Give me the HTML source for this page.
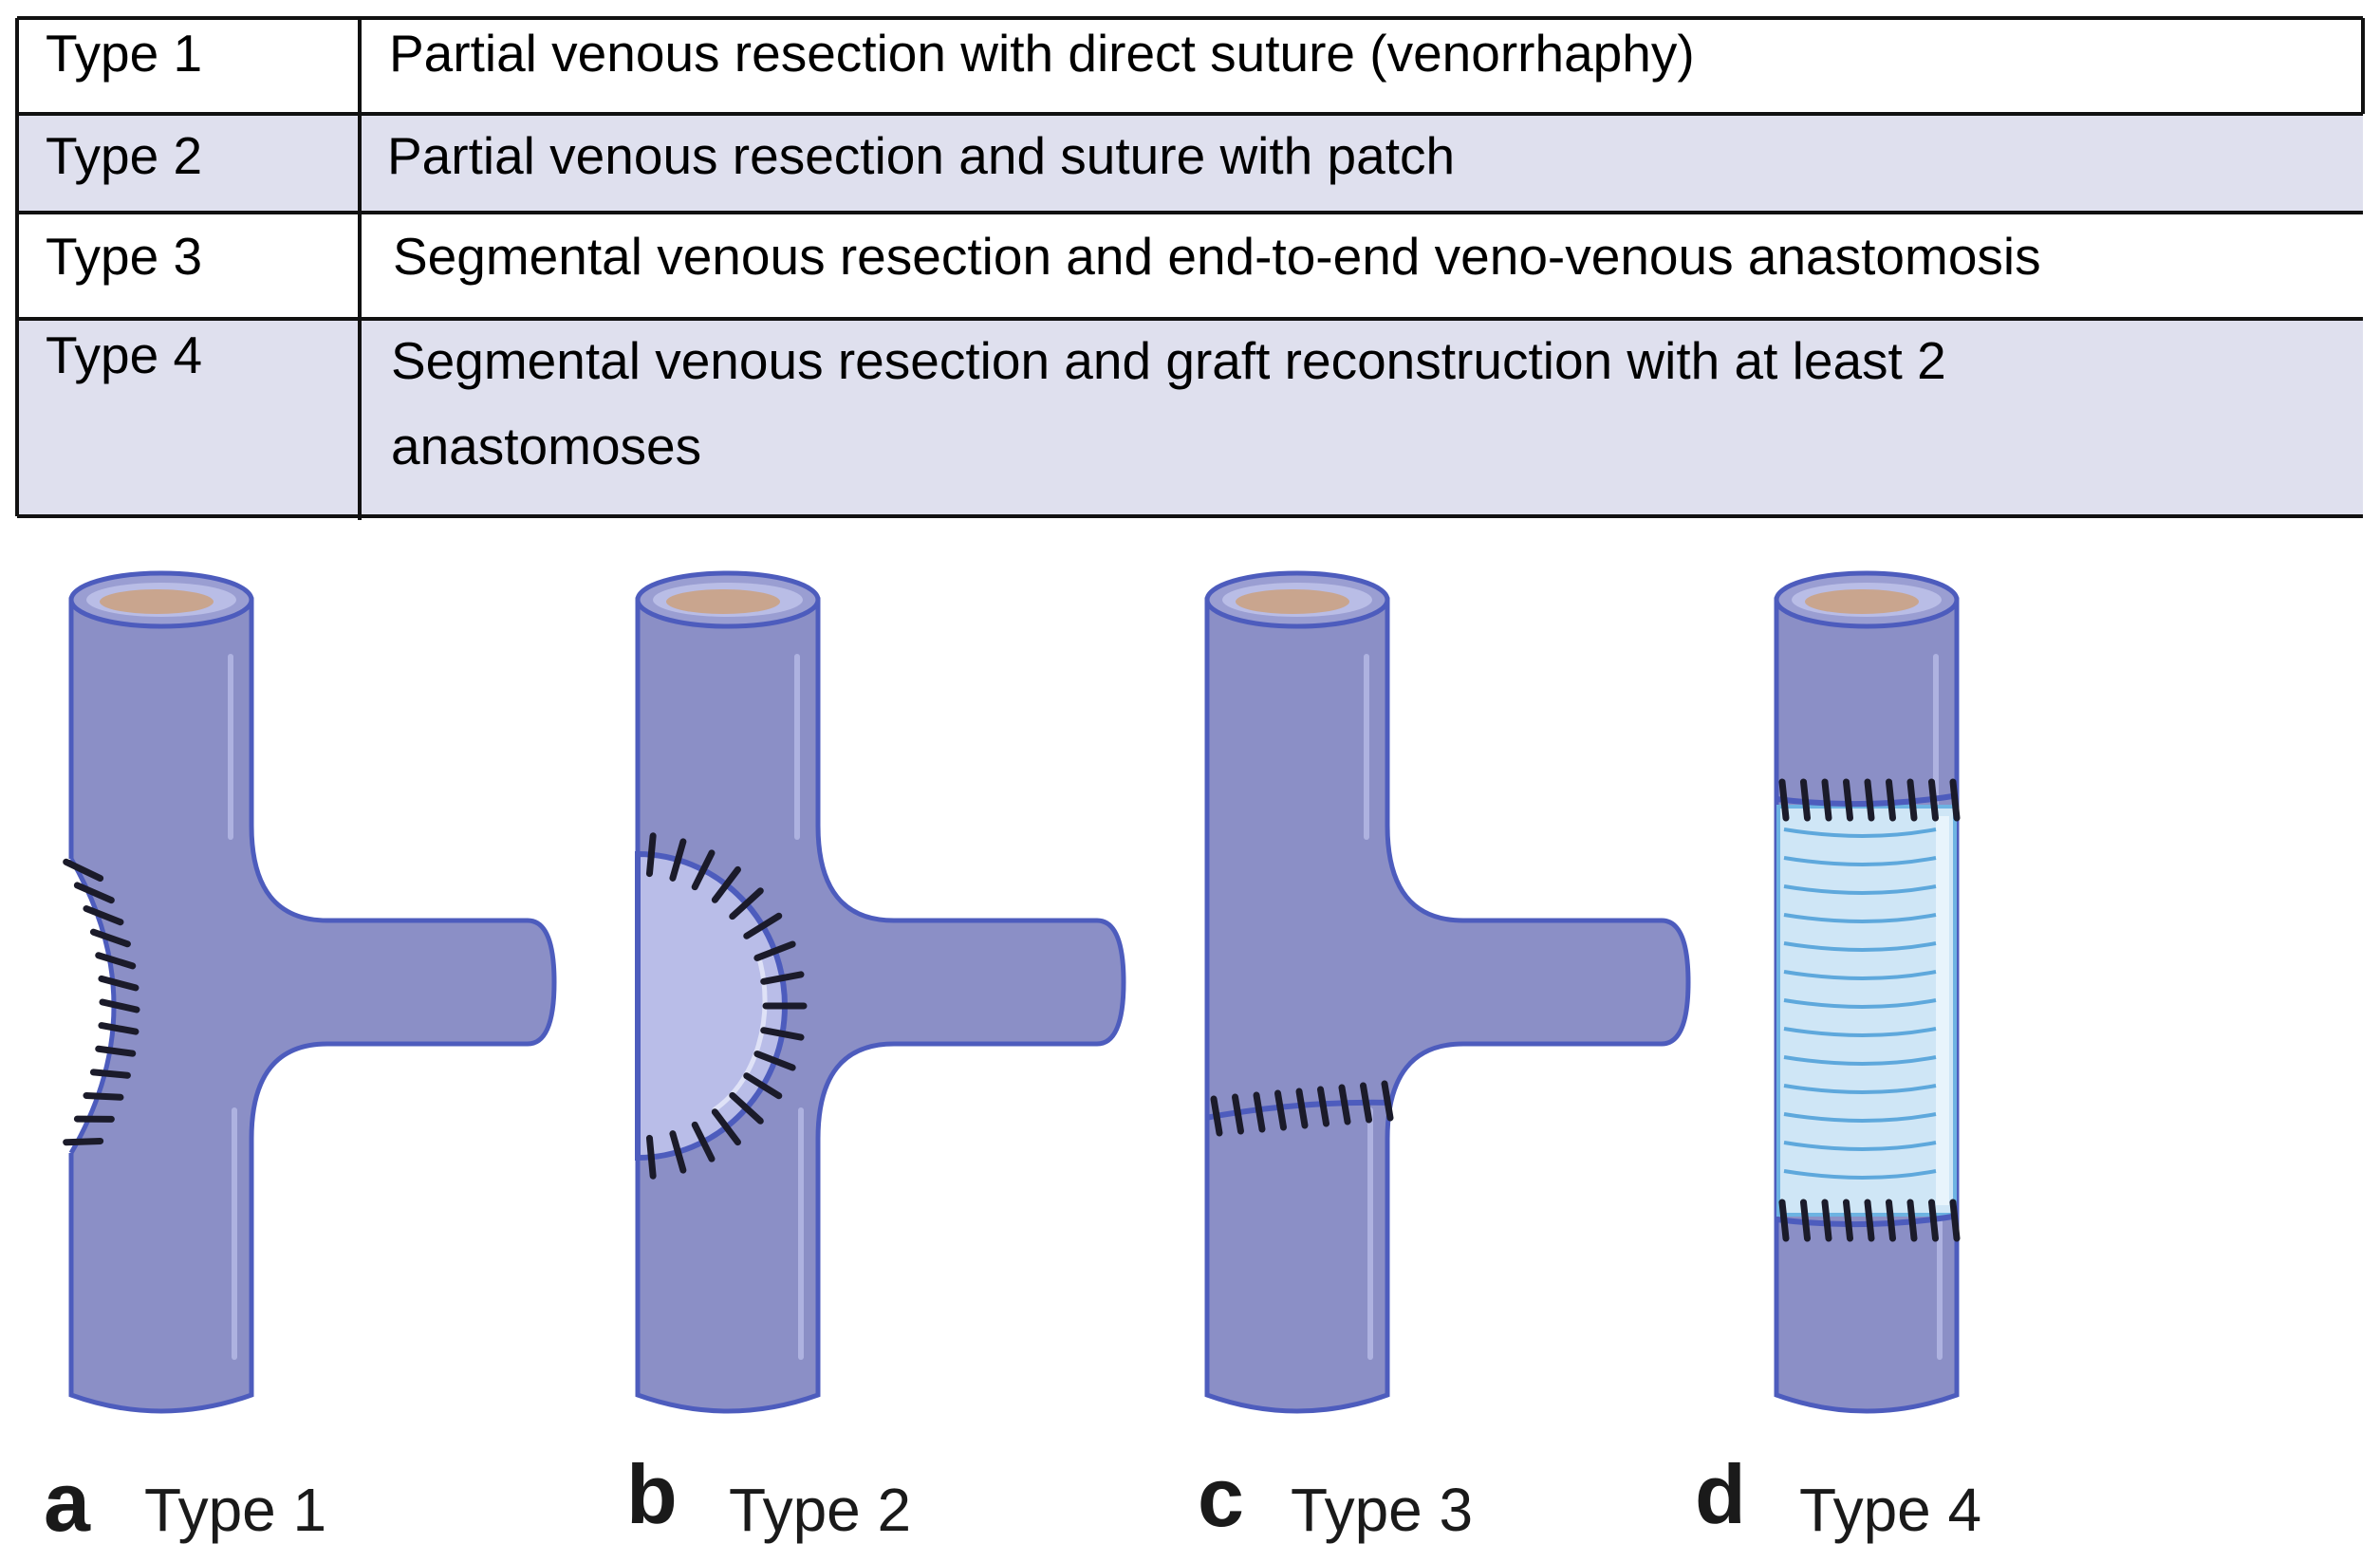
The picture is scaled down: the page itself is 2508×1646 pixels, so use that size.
<!DOCTYPE html>
<html><head><meta charset="utf-8"><style>
html,body{margin:0;padding:0;background:#fff;}
body{width:2508px;height:1646px;position:relative;overflow:hidden;font-family:"Liberation Sans",Arial,sans-serif;}
.t{position:absolute;font-size:55px;color:#000;white-space:nowrap;}
</style></head><body>
<svg width="2508" height="1646" viewBox="0 0 2508 1646" style="position:absolute;left:0;top:0">
<rect x="18" y="120" width="2472" height="104" fill="#dfe0ee"/>
<rect x="18" y="336" width="2472" height="208" fill="#dfe0ee"/>
<g stroke="#111" stroke-width="4">
<line x1="18" y1="19" x2="2490" y2="19"/>
<line x1="18" y1="120" x2="2490" y2="120"/>
<line x1="18" y1="224" x2="2490" y2="224"/>
<line x1="18" y1="336" x2="2490" y2="336"/>
<line x1="18" y1="544" x2="2490" y2="544"/>
<line x1="18" y1="19" x2="18" y2="544"/>
<line x1="2490" y1="19" x2="2490" y2="120"/>
<line x1="379" y1="19" x2="379" y2="548"/>
</g>
<g id="v"></g>
<g id="s"></g>
<g font-family="Liberation Sans,Arial,sans-serif" fill="#1a1a1a">
<text x="46" y="1613" font-size="88" font-weight="bold">a</text>
<text x="152" y="1613" font-size="64">Type 1</text>
<text x="660" y="1605" font-size="88" font-weight="bold">b</text>
<text x="768" y="1613" font-size="64">Type 2</text>
<text x="1262" y="1608" font-size="88" font-weight="bold">c</text>
<text x="1360" y="1613" font-size="64">Type 3</text>
<text x="1786" y="1605" font-size="88" font-weight="bold">d</text>
<text x="1896" y="1613" font-size="64">Type 4</text>
</g>
</svg>
<div class="t" style="left:48px;top:24px">Type 1</div>
<div class="t" style="left:410px;top:24px">Partial venous resection with direct suture (venorrhaphy)</div>
<div class="t" style="left:48px;top:132px">Type 2</div>
<div class="t" style="left:408px;top:132px">Partial venous resection and suture with patch</div>
<div class="t" style="left:48px;top:238px">Type 3</div>
<div class="t" style="left:414px;top:238px">Segmental venous resection and end-to-end veno-venous anastomosis</div>
<div class="t" style="left:48px;top:342px">Type 4</div>
<div class="t" style="left:412px;top:348px">Segmental venous resection and graft reconstruction with at least 2</div>
<div class="t" style="left:412px;top:438px">anastomoses</div>
<script>
var NS="http://www.w3.org/2000/svg";
var V=document.getElementById('v'),S=document.getElementById('s');
function el(t,a,p){var e=document.createElementNS(NS,t);for(var k in a)e.setAttribute(k,a[k]);(p||V).appendChild(e);return e;}
var F="#8b8fc6",ST="#4d5cbd";
function tee(x0,xe,branch){
 var w=190,yt=632,yb=1470,y1=970,y2=1100,r=x0+w;
 var d="M"+x0+","+yt+" L"+r+","+yt;
 if(branch){d+=" L"+r+","+(y1-100)+" Q"+r+","+y1+" "+(r+80)+","+y1+" L"+(xe-28)+","+y1+" Q"+xe+","+y1+" "+xe+","+((y1+y2)/2)+" Q"+xe+","+y2+" "+(xe-28)+","+y2+" L"+(r+80)+","+y2+" Q"+r+","+y2+" "+r+","+(y2+100);}
 d+=" L"+r+","+yb+" Q"+(x0+w/2)+","+(yb+34)+" "+x0+","+yb+" Z";
 el('path',{d:d,fill:F,stroke:ST,'stroke-width':5});
 el('path',{d:"M"+(r-22)+","+(yt+60)+" L"+(r-22)+","+(yt+250),stroke:"#aeb2e0",'stroke-width':6,fill:'none','stroke-linecap':'round'});
 el('path',{d:"M"+(r-18)+","+(yb-300)+" L"+(r-18)+","+(yb-40),stroke:"#aeb2e0",'stroke-width':6,fill:'none','stroke-linecap':'round'});
 var cx=x0+w/2;
 el('ellipse',{cx:cx,cy:yt,rx:w/2,ry:28,fill:"#9a9ed2",stroke:ST,'stroke-width':5});
 el('ellipse',{cx:cx,cy:yt,rx:w/2-16,ry:18,fill:"#b9bde6"});
 el('ellipse',{cx:cx-5,cy:yt+2,rx:60,ry:13,fill:"#c9a58e"});
}
tee(75,584,true);tee(672,1184,true);tee(1272,1779,true);tee(1872,0,false);
function tick(x1,y1,x2,y2,w){el('line',{x1:x1,y1:y1,x2:x2,y2:y2,stroke:"#1b1b2a",'stroke-width':w||7,'stroke-linecap':'round'},S);}
(function(){
 el('path',{d:"M75,905 Q165,1060 75,1215 L70,1215 L70,905 Z",fill:"#fff"});
 el('path',{d:"M75,905 Q165,1060 75,1215",fill:"none",stroke:ST,'stroke-width':5});
 for(var i=0;i<13;i++){var t=(i+0.5)/13;var x=(1-t)*(1-t)*75+2*t*(1-t)*165+t*t*75;var y=(1-t)*(1-t)*905+2*t*(1-t)*1060+t*t*1215;
  tick(x-12,y-4+(t-0.5)*10,x+24,y+4-(t-0.5)*10,7);}
})();
(function(){
 var cx=672,cy=1060,rx=155,ry=160;
 el('path',{d:"M"+cx+","+(cy-ry)+" A"+rx+","+ry+" 0 0 1 "+cx+","+(cy+ry)+" Z",fill:"#b9bde8",stroke:ST,'stroke-width':6});
 el('path',{d:"M"+(cx+128)+","+(cy-50)+" A100,130 0 0 1 "+(cx+80)+","+(cy+110),fill:"none",stroke:"#dfe2f7",'stroke-width':5});
 for(var i=0;i<17;i++){var a=-Math.PI/2+(i+0.5)*Math.PI/17;var x=cx+rx*Math.cos(a),y=cy+ry*Math.sin(a);
  var nx=Math.cos(a),ny=Math.sin(a);tick(x-nx*20,y-ny*20,x+nx*20,y+ny*20,7);}
})();
(function(){
 el('path',{d:"M1270,1178 Q1368,1160 1466,1162",fill:"none",stroke:ST,'stroke-width':6});
 for(var i=0;i<9;i++){var x=1282+i*22.5;var y=1176-i*2;tick(x-3,y-18,x+3,y+18,7);}
})();
(function(){
 el('rect',{x:1874,y:850,width:186,height:430,fill:"#cfe6f6",stroke:"#6db3e2",'stroke-width':4});
 el('rect',{x:2040,y:860,width:14,height:410,fill:"#e8f4fc"});
 for(var i=0;i<13;i++){var y=880+i*30;el('path',{d:"M1880,"+(y-6)+" Q1965,"+(y+8)+" 2040,"+(y-6),fill:"none",stroke:"#5ea8dc",'stroke-width':4},S);}
 [842,1285].forEach(function(yy){
  el('path',{d:"M1872,"+yy+" Q1968,"+(yy+12)+" 2064,"+(yy-4),fill:"none",stroke:ST,'stroke-width':6},S);
  for(var i=0;i<9;i++){var x=1880+i*22.5;tick(x-2,yy-18,x+2,yy+20,7);}
 });
})();
</script>
</body></html>
